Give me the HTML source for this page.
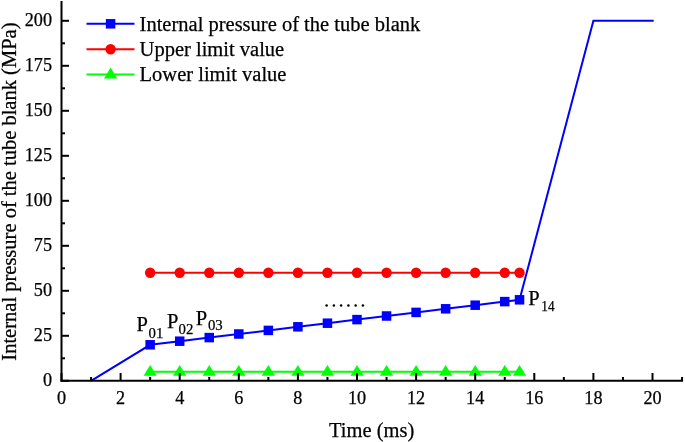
<!DOCTYPE html><html><head><meta charset="utf-8"><style>html,body{margin:0;padding:0;background:#fff;width:685px;height:442px;overflow:hidden}svg{display:block;will-change:transform}text{font-family:"Liberation Serif",serif;fill:#000;stroke:#000;stroke-width:0.25px}</style></head><body>
<svg width="685" height="442" viewBox="0 0 685 442">
<polyline points="150.15,272.80 519.53,272.80" stroke="#ff0000" stroke-width="2" fill="none"/>
<circle cx="150.15" cy="272.80" r="5.2" fill="#ff0000"/>
<circle cx="179.70" cy="272.80" r="5.2" fill="#ff0000"/>
<circle cx="209.25" cy="272.80" r="5.2" fill="#ff0000"/>
<circle cx="238.80" cy="272.80" r="5.2" fill="#ff0000"/>
<circle cx="268.35" cy="272.80" r="5.2" fill="#ff0000"/>
<circle cx="297.90" cy="272.80" r="5.2" fill="#ff0000"/>
<circle cx="327.45" cy="272.80" r="5.2" fill="#ff0000"/>
<circle cx="357.00" cy="272.80" r="5.2" fill="#ff0000"/>
<circle cx="386.55" cy="272.80" r="5.2" fill="#ff0000"/>
<circle cx="416.10" cy="272.80" r="5.2" fill="#ff0000"/>
<circle cx="445.65" cy="272.80" r="5.2" fill="#ff0000"/>
<circle cx="475.20" cy="272.80" r="5.2" fill="#ff0000"/>
<circle cx="504.75" cy="272.80" r="5.2" fill="#ff0000"/>
<circle cx="519.53" cy="272.80" r="5.2" fill="#ff0000"/>
<polyline points="150.15,371.80 519.53,371.80" stroke="#00ff00" stroke-width="2" fill="none"/>
<polygon points="150.15,364.90 156.75,375.80 143.55,375.80" fill="#00ff00"/>
<polygon points="179.70,364.90 186.30,375.80 173.10,375.80" fill="#00ff00"/>
<polygon points="209.25,364.90 215.85,375.80 202.65,375.80" fill="#00ff00"/>
<polygon points="238.80,364.90 245.40,375.80 232.20,375.80" fill="#00ff00"/>
<polygon points="268.35,364.90 274.95,375.80 261.75,375.80" fill="#00ff00"/>
<polygon points="297.90,364.90 304.50,375.80 291.30,375.80" fill="#00ff00"/>
<polygon points="327.45,364.90 334.05,375.80 320.85,375.80" fill="#00ff00"/>
<polygon points="357.00,364.90 363.60,375.80 350.40,375.80" fill="#00ff00"/>
<polygon points="386.55,364.90 393.15,375.80 379.95,375.80" fill="#00ff00"/>
<polygon points="416.10,364.90 422.70,375.80 409.50,375.80" fill="#00ff00"/>
<polygon points="445.65,364.90 452.25,375.80 439.05,375.80" fill="#00ff00"/>
<polygon points="475.20,364.90 481.80,375.80 468.60,375.80" fill="#00ff00"/>
<polygon points="504.75,364.90 511.35,375.80 498.15,375.80" fill="#00ff00"/>
<polygon points="519.53,364.90 526.13,375.80 512.93,375.80" fill="#00ff00"/>
<polyline points="91.05,380.80 150.15,344.80 179.70,341.20 209.25,337.60 238.80,334.00 268.35,330.40 297.90,326.80 327.45,323.20 357.00,319.60 386.55,316.00 416.10,312.40 445.65,308.80 475.20,305.20 504.75,301.60 519.53,299.80 593.40,20.80 653.68,20.80" stroke="#0000ff" stroke-width="2" fill="none" stroke-linejoin="miter"/>
<rect x="145.40" y="340.05" width="9.5" height="9.5" fill="#0000ff"/>
<rect x="174.95" y="336.45" width="9.5" height="9.5" fill="#0000ff"/>
<rect x="204.50" y="332.85" width="9.5" height="9.5" fill="#0000ff"/>
<rect x="234.05" y="329.25" width="9.5" height="9.5" fill="#0000ff"/>
<rect x="263.60" y="325.65" width="9.5" height="9.5" fill="#0000ff"/>
<rect x="293.15" y="322.05" width="9.5" height="9.5" fill="#0000ff"/>
<rect x="322.70" y="318.45" width="9.5" height="9.5" fill="#0000ff"/>
<rect x="352.25" y="314.85" width="9.5" height="9.5" fill="#0000ff"/>
<rect x="381.80" y="311.25" width="9.5" height="9.5" fill="#0000ff"/>
<rect x="411.35" y="307.65" width="9.5" height="9.5" fill="#0000ff"/>
<rect x="440.90" y="304.05" width="9.5" height="9.5" fill="#0000ff"/>
<rect x="470.45" y="300.45" width="9.5" height="9.5" fill="#0000ff"/>
<rect x="500.00" y="296.85" width="9.5" height="9.5" fill="#0000ff"/>
<rect x="514.78" y="295.05" width="9.5" height="9.5" fill="#0000ff"/>
<line x1="61.5" y1="1" x2="61.5" y2="381.8" stroke="#000" stroke-width="2"/>
<line x1="60.5" y1="380.8" x2="683.05" y2="380.8" stroke="#000" stroke-width="2"/>
<line x1="61.5" y1="380.80" x2="69.0" y2="380.80" stroke="#000" stroke-width="2"/>
<line x1="61.5" y1="358.30" x2="65.0" y2="358.30" stroke="#000" stroke-width="2"/>
<line x1="61.5" y1="335.80" x2="69.0" y2="335.80" stroke="#000" stroke-width="2"/>
<line x1="61.5" y1="313.30" x2="65.0" y2="313.30" stroke="#000" stroke-width="2"/>
<line x1="61.5" y1="290.80" x2="69.0" y2="290.80" stroke="#000" stroke-width="2"/>
<line x1="61.5" y1="268.30" x2="65.0" y2="268.30" stroke="#000" stroke-width="2"/>
<line x1="61.5" y1="245.80" x2="69.0" y2="245.80" stroke="#000" stroke-width="2"/>
<line x1="61.5" y1="223.30" x2="65.0" y2="223.30" stroke="#000" stroke-width="2"/>
<line x1="61.5" y1="200.80" x2="69.0" y2="200.80" stroke="#000" stroke-width="2"/>
<line x1="61.5" y1="178.30" x2="65.0" y2="178.30" stroke="#000" stroke-width="2"/>
<line x1="61.5" y1="155.80" x2="69.0" y2="155.80" stroke="#000" stroke-width="2"/>
<line x1="61.5" y1="133.30" x2="65.0" y2="133.30" stroke="#000" stroke-width="2"/>
<line x1="61.5" y1="110.80" x2="69.0" y2="110.80" stroke="#000" stroke-width="2"/>
<line x1="61.5" y1="88.30" x2="65.0" y2="88.30" stroke="#000" stroke-width="2"/>
<line x1="61.5" y1="65.80" x2="69.0" y2="65.80" stroke="#000" stroke-width="2"/>
<line x1="61.5" y1="43.30" x2="65.0" y2="43.30" stroke="#000" stroke-width="2"/>
<line x1="61.5" y1="20.80" x2="69.0" y2="20.80" stroke="#000" stroke-width="2"/>
<line x1="61.50" y1="380.8" x2="61.50" y2="373.0" stroke="#000" stroke-width="2"/>
<line x1="91.05" y1="380.8" x2="91.05" y2="377.0" stroke="#000" stroke-width="2"/>
<line x1="120.60" y1="380.8" x2="120.60" y2="373.0" stroke="#000" stroke-width="2"/>
<line x1="150.15" y1="380.8" x2="150.15" y2="377.0" stroke="#000" stroke-width="2"/>
<line x1="179.70" y1="380.8" x2="179.70" y2="373.0" stroke="#000" stroke-width="2"/>
<line x1="209.25" y1="380.8" x2="209.25" y2="377.0" stroke="#000" stroke-width="2"/>
<line x1="238.80" y1="380.8" x2="238.80" y2="373.0" stroke="#000" stroke-width="2"/>
<line x1="268.35" y1="380.8" x2="268.35" y2="377.0" stroke="#000" stroke-width="2"/>
<line x1="297.90" y1="380.8" x2="297.90" y2="373.0" stroke="#000" stroke-width="2"/>
<line x1="327.45" y1="380.8" x2="327.45" y2="377.0" stroke="#000" stroke-width="2"/>
<line x1="357.00" y1="380.8" x2="357.00" y2="373.0" stroke="#000" stroke-width="2"/>
<line x1="386.55" y1="380.8" x2="386.55" y2="377.0" stroke="#000" stroke-width="2"/>
<line x1="416.10" y1="380.8" x2="416.10" y2="373.0" stroke="#000" stroke-width="2"/>
<line x1="445.65" y1="380.8" x2="445.65" y2="377.0" stroke="#000" stroke-width="2"/>
<line x1="475.20" y1="380.8" x2="475.20" y2="373.0" stroke="#000" stroke-width="2"/>
<line x1="504.75" y1="380.8" x2="504.75" y2="377.0" stroke="#000" stroke-width="2"/>
<line x1="534.30" y1="380.8" x2="534.30" y2="373.0" stroke="#000" stroke-width="2"/>
<line x1="563.85" y1="380.8" x2="563.85" y2="377.0" stroke="#000" stroke-width="2"/>
<line x1="593.40" y1="380.8" x2="593.40" y2="373.0" stroke="#000" stroke-width="2"/>
<line x1="622.95" y1="380.8" x2="622.95" y2="377.0" stroke="#000" stroke-width="2"/>
<line x1="652.50" y1="380.8" x2="652.50" y2="373.0" stroke="#000" stroke-width="2"/>
<line x1="682.05" y1="380.8" x2="682.05" y2="377.0" stroke="#000" stroke-width="2"/>
<text x="52.0" y="386.40" font-size="18.2" text-anchor="end">0</text>
<text x="52.0" y="341.34" font-size="18.2" text-anchor="end">25</text>
<text x="52.0" y="296.28" font-size="18.2" text-anchor="end">50</text>
<text x="52.0" y="251.21" font-size="18.2" text-anchor="end">75</text>
<text x="52.0" y="206.15" font-size="18.2" text-anchor="end">100</text>
<text x="52.0" y="161.09" font-size="18.2" text-anchor="end">125</text>
<text x="52.0" y="116.03" font-size="18.2" text-anchor="end">150</text>
<text x="52.0" y="70.96" font-size="18.2" text-anchor="end">175</text>
<text x="52.0" y="25.90" font-size="18.2" text-anchor="end">200</text>
<text x="61.50" y="403.8" font-size="18.2" text-anchor="middle">0</text>
<text x="120.60" y="403.8" font-size="18.2" text-anchor="middle">2</text>
<text x="179.70" y="403.8" font-size="18.2" text-anchor="middle">4</text>
<text x="238.80" y="403.8" font-size="18.2" text-anchor="middle">6</text>
<text x="297.90" y="403.8" font-size="18.2" text-anchor="middle">8</text>
<text x="357.00" y="403.8" font-size="18.2" text-anchor="middle">10</text>
<text x="416.10" y="403.8" font-size="18.2" text-anchor="middle">12</text>
<text x="475.20" y="403.8" font-size="18.2" text-anchor="middle">14</text>
<text x="534.30" y="403.8" font-size="18.2" text-anchor="middle">16</text>
<text x="593.40" y="403.8" font-size="18.2" text-anchor="middle">18</text>
<text x="652.50" y="403.8" font-size="18.2" text-anchor="middle">20</text>
<text x="371.7" y="437" font-size="20.5" text-anchor="middle">Time (ms)</text>
<text transform="translate(16.0,191.6) rotate(-90)" x="0" y="0" font-size="20.5" text-anchor="middle">Internal pressure of the tube blank (MPa)</text>
<line x1="86.5" y1="23.8" x2="134.5" y2="23.8" stroke="#0000ff" stroke-width="2"/>
<rect x="105.85" y="19.05" width="9.5" height="9.5" fill="#0000ff"/>
<line x1="86.5" y1="49.3" x2="134.5" y2="49.3" stroke="#ff0000" stroke-width="2"/>
<circle cx="110.6" cy="49.3" r="5.2" fill="#ff0000"/>
<line x1="86.5" y1="74.5" x2="134.5" y2="74.5" stroke="#00ff00" stroke-width="2"/>
<polygon points="110.60,67.60 117.20,78.50 104.00,78.50" fill="#00ff00"/>
<text x="139.6" y="30.50" font-size="20.5">Internal pressure of the tube blank</text>
<text x="139.6" y="56.00" font-size="20.5">Upper limit value</text>
<text x="139.6" y="81.20" font-size="20.5">Lower limit value</text>
<text x="136.60" y="331.30" font-size="20.5">P</text>
<text x="148.60" y="337.80" font-size="14.8">01</text>
<text x="166.90" y="328.20" font-size="20.5">P</text>
<text x="178.50" y="333.70" font-size="14.8">02</text>
<text x="195.80" y="324.70" font-size="20.5">P</text>
<text x="207.90" y="330.10" font-size="14.8">03</text>
<text x="528.30" y="305.20" font-size="20.5">P</text>
<text x="541.30" y="310.50" font-size="14.8" textLength="13.3" lengthAdjust="spacingAndGlyphs">14</text>
<circle cx="326.60" cy="305.6" r="1.25" fill="#000"/>
<circle cx="333.86" cy="305.6" r="1.25" fill="#000"/>
<circle cx="341.12" cy="305.6" r="1.25" fill="#000"/>
<circle cx="348.38" cy="305.6" r="1.25" fill="#000"/>
<circle cx="355.64" cy="305.6" r="1.25" fill="#000"/>
<circle cx="362.90" cy="305.6" r="1.25" fill="#000"/>
</svg></body></html>
